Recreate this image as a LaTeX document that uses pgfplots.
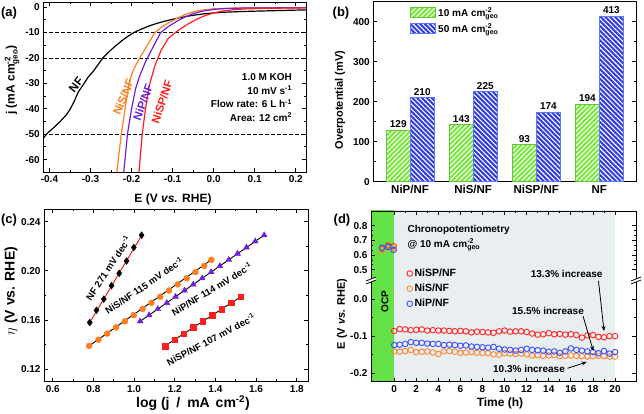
\documentclass[border=0pt]{standalone}
\usepackage{fontspec}
\setmainfont{Liberation Sans}
\usepackage{amsmath}
\usepackage{pgfplots}
\pgfplotsset{compat=1.18}
\usetikzlibrary{patterns.meta,arrows.meta}

\definecolor{cRed}{RGB}{255,30,30}
\definecolor{cOrange}{RGB}{255,125,30}
\definecolor{cPurple}{RGB}{110,30,220}
\definecolor{barGreen}{RGB}{120,232,60}
\definecolor{barBlue}{RGB}{50,60,225}
\definecolor{barBlueEdge}{RGB}{90,120,255}
\definecolor{ocpGreen}{RGB}{100,225,70}
\definecolor{bgGray}{RGB}{233,238,240}
\definecolor{dRed}{RGB}{255,40,40}
\definecolor{dOrange}{RGB}{255,135,50}
\definecolor{dBlue}{RGB}{60,80,255}

\newcommand{\geo}[1]{$^{\text{#1}}_{\text{geo}}$}
\newcommand{\fa}{\fontsize{12}{14}\selectfont\bfseries}
\newcommand{\fc}{\fontsize{14}{16}\selectfont\bfseries}
\newcommand{\fb}{\fontsize{11}{13}\selectfont\bfseries}
\newcommand{\fp}{\fontsize{13}{15}\selectfont\bfseries}
\newcommand{\fl}{\fontsize{11.5}{13}\selectfont\bfseries}
\newcommand{\fs}{\fontsize{9.5}{11}\selectfont\bfseries}
\newcommand{\fm}{\fontsize{10}{12}\selectfont\bfseries}

\pgfplotsset{
  every axis/.append style={
    scale only axis, anchor=south west,
    axis line style={-, line width=0.9pt},
    tick style={line width=0.8pt, black},
    major tick length=4pt, minor tick length=2.2pt,
    /pgf/number format/assume math mode=true,
    tick label style={font=\fontsize{10}{12}\selectfont\bfseries},
  },
}

\begin{document}
\begin{tikzpicture}

%% ---------------- (a) ----------------
\begin{axis}[at={(43.3pt,241.7pt)}, width=262.7pt, height=170.3pt,
  xmin=-0.415, xmax=0.225, ymin=-65, ymax=2,
  xtick={-0.4,-0.3,-0.2,-0.1,0,0.1,0.2}, minor x tick num=1,
  ytick={-60,-50,-40,-30,-20,-10,0}, minor y tick num=1,
  xticklabel style={/pgf/number format/.cd,fixed,fixed zerofill,precision=1}]
\addplot[black, line width=0.8pt, dash pattern=on 3.5pt off 2.5pt] coordinates {(-0.415,-10)(0.225,-10)};
\addplot[black, line width=0.8pt, dash pattern=on 3.5pt off 2.5pt] coordinates {(-0.415,-20)(0.225,-20)};
\addplot[black, line width=0.8pt, dash pattern=on 3.5pt off 2.5pt] coordinates {(-0.415,-50)(0.225,-50)};
% NF
\addplot[black, line width=1.2pt] coordinates {
(-0.415,-51.6)(-0.405,-49.6)(-0.39,-47.5)(-0.375,-45.2)(-0.36,-42.6)(-0.35,-40.3)(-0.34,-37.2)
(-0.33,-33.5)(-0.318,-30.6)(-0.305,-27.4)(-0.293,-25.2)(-0.284,-23.2)(-0.27,-20.0)(-0.255,-17.6)
(-0.24,-15.4)(-0.225,-13.4)(-0.21,-11.6)(-0.194,-10.0)(-0.178,-8.8)(-0.16,-7.6)(-0.14,-6.5)
(-0.12,-5.6)(-0.10,-4.8)(-0.08,-4.1)(-0.06,-3.5)(-0.04,-3.0)(-0.02,-2.6)(0.0,-2.3)(0.03,-2.0)
(0.06,-1.8)(0.10,-1.6)(0.15,-1.4)(0.225,-1.1)};
% NiS/NF
\addplot[cOrange, line width=1.2pt] coordinates {
(-0.236,-65)(-0.225,-50)(-0.213,-37)(-0.204,-28.5)(-0.195,-24.5)(-0.182,-20.5)(-0.165,-16.0)
(-0.143,-10.0)(-0.128,-8.0)(-0.11,-6.2)(-0.09,-4.5)(-0.07,-3.0)(-0.05,-1.9)(-0.03,-1.2)
(0.0,-0.7)(0.05,-0.4)(0.10,-0.3)(0.225,-0.2)};
% NiP/NF
\addplot[cPurple, line width=1.2pt] coordinates {
(-0.219,-65)(-0.21,-50)(-0.2,-40)(-0.19,-32)(-0.18,-27)(-0.166,-21.5)(-0.15,-16.5)
(-0.129,-10.0)(-0.11,-7.6)(-0.09,-5.6)(-0.07,-3.9)(-0.05,-2.6)(-0.03,-1.7)(0.0,-0.9)
(0.03,-0.55)(0.08,-0.35)(0.225,-0.25)};
% NiSP/NF
\addplot[cRed, line width=1.2pt] coordinates {
(-0.182,-65)(-0.174,-50)(-0.166,-40)(-0.157,-31)(-0.143,-23)(-0.128,-17)(-0.11,-12.2)
(-0.093,-10.0)(-0.08,-8.5)(-0.06,-6.4)(-0.04,-4.7)(-0.02,-3.3)(0.0,-2.3)(0.02,-1.6)
(0.05,-1.0)(0.08,-0.7)(0.12,-0.5)(0.225,-0.3)};
\end{axis}
\node[font=\fp] at (9pt,401pt) {(a)};
\node[font=\fa, rotate=90] at (12pt,334pt) {j (mA cm\geo{-2})};
\node[font=\fa] at (173pt,215pt) {E (V \textit{vs.} RHE)};
\node[font=\fl, rotate=52] at (76pt,329pt) {NF};
\node[font=\fl, rotate=68, text=cOrange] at (123.5pt,317pt) {NiS/NF};
\node[font=\fl, rotate=70, text=cPurple] at (143pt,311.5pt) {NiP/NF};
\node[font=\fl, rotate=72, text=cRed] at (162pt,312pt) {NiSP/NF};
\node[font=\fm, anchor=east] at (295.5pt,337pt) {1.0 M KOH};
\node[font=\fm, anchor=east] at (295.5pt,324pt) {10 mV s\textsuperscript{-1}};
\node[font=\fm, anchor=east] at (295.5pt,310.5pt) {Flow rate: 6 L h\textsuperscript{-1}};
\node[font=\fm, anchor=east] at (295.5pt,297pt) {Area: 12 cm\textsuperscript{2}};

%% ---------------- (b) ----------------
\begin{axis}[at={(373.3pt,232.3pt)}, width=262.7pt, height=180pt,
  xmin=-0.583, xmax=3.583, ymin=0, ymax=450,
  xtick={0,1,2,3}, xticklabels={NiP/NF,NiS/NF,NiSP/NF,NF},
  xtick style={draw=none},
  xticklabel style={font=\fontsize{11.5}{13}\selectfont\bfseries},
  ytick={0,100,200,300,400}, minor y tick num=1,
  legend style={at={(rel axis cs:0.136,0.985)}, anchor=north west, draw=none, fill=none,
     font=\fontsize{10}{12}\selectfont\bfseries, row sep=2pt, inner sep=1pt},
  legend cell align=left,
  legend image code/.code={\draw[#1] (0pt,-4.5pt) rectangle (25pt,5.5pt);},
  every node near coord/.append style={font=\fontsize{10}{12}\selectfont\bfseries, inner sep=2pt}]
\addplot[ybar, bar width=23.5pt, bar shift=-11.8pt, preaction={fill=barGreen},
  pattern={Lines[angle=45,distance=3.4pt,line width=1.1pt]}, pattern color=white,
  draw=barGreen!85!black, line width=0.6pt, nodes near coords,
  every node near coord/.append style={xshift=-11.8pt}]
  coordinates {(0,129)(1,143)(2,93)(3,194)};
\addlegendentry{10 mA cm\geo{-2}}
\addplot[ybar, bar width=24.5pt, bar shift=12.2pt, preaction={fill=barBlue},
  pattern={Lines[angle=-45,distance=3.4pt,line width=1.1pt]}, pattern color=white,
  draw=barBlueEdge, line width=1pt, nodes near coords,
  every node near coord/.append style={xshift=12.2pt}]
  coordinates {(0,210)(1,225)(2,174)(3,413)};
\addlegendentry{50 mA cm\geo{-2}}
\end{axis}
\node[font=\fp] at (341pt,401pt) {(b)};
\node[font=\fb, rotate=90] at (340pt,314pt) {Overpotential (mV)};

%% ---------------- (c) ----------------
\begin{axis}[at={(44pt,32.3pt)}, width=264.3pt, height=172.7pt,
  xmin=0.557, xmax=1.857, ymin=0.1099, ymax=0.2503,
  xtick={0.6,0.8,1.0,1.2,1.4,1.6,1.8}, minor x tick num=1,
  ytick={0.12,0.16,0.20,0.24}, minor y tick num=1,
  xticklabel style={/pgf/number format/.cd,fixed,fixed zerofill,precision=1},
  yticklabel style={/pgf/number format/.cd,fixed,fixed zerofill,precision=2}]
% NF
\addplot[only marks, mark=diamond*, mark size=3.4pt, black] coordinates {
(0.782,0.158)(0.815,0.168)(0.851,0.177)(0.889,0.188)(0.927,0.198)(0.963,0.208)(0.999,0.219)(1.037,0.229)};
\addplot[cRed, line width=1pt] coordinates {(0.78,0.1575)(1.04,0.2295)};
% NiS/NF
\addplot[only marks, mark=*, mark size=3pt, cOrange] coordinates {
(0.779,0.139)(0.825,0.144)(0.868,0.149)(0.911,0.154)(0.955,0.159)(0.998,0.164)(1.042,0.169)
(1.085,0.174)(1.129,0.179)(1.172,0.184)(1.215,0.189)(1.259,0.194)(1.302,0.199)(1.345,0.204)(1.38,0.209)};
\addplot[black, line width=0.9pt] coordinates {(0.779,0.139)(1.38,0.209)};
% NiP/NF
\addplot[only marks, mark=triangle*, mark size=3.4pt, cPurple] coordinates {
(1.03,0.159)(1.074,0.164)(1.117,0.169)(1.161,0.174)(1.204,0.179)(1.248,0.184)(1.291,0.189)
(1.335,0.194)(1.379,0.199)(1.422,0.204)(1.466,0.209)(1.509,0.214)(1.553,0.219)(1.596,0.224)(1.64,0.229)};
\addplot[black, line width=0.9pt] coordinates {(1.03,0.159)(1.64,0.229)};
% NiSP/NF
\addplot[only marks, mark=square*, mark size=2.8pt, cRed] coordinates {
(1.152,0.139)(1.199,0.144)(1.245,0.149)(1.292,0.154)(1.338,0.159)(1.385,0.164)(1.432,0.169)(1.478,0.174)(1.525,0.179)};
\addplot[black, line width=0.9pt] coordinates {(1.152,0.139)(1.525,0.179)};
\end{axis}
\node[font=\fp] at (9pt,194pt) {(c)};
\node[font=\fc, rotate=90] at (11pt,123pt) {$\eta$ (V vs. RHE)};
\node[font=\fc] at (193pt,11pt) {log (j\hspace{3pt} /\hspace{3pt} mA\hspace{2pt} cm\textsuperscript{-2})};
\node[font=\fs, rotate=56.5] at (108pt,146pt) {NF 271 mV dec\textsuperscript{-1}};
\node[font=\fs, rotate=34] at (144pt,128.5pt) {NiS/NF 115 mV dec\textsuperscript{-1}};
\node[font=\fs, rotate=31] at (211.7pt,125pt) {NiP/NF 114 mV dec\textsuperscript{-1}};
\node[font=\fs, rotate=28] at (210.8pt,74.8pt) {NiSP/NF 107 mV dec\textsuperscript{-1}};

%% ---------------- (d) upper ----------------
\begin{axis}[at={(371pt,134pt)}, width=265pt, height=69pt,
  xmin=-2.1, xmax=21.9, ymin=0.43, ymax=0.9,
  axis x line*=top, axis y line*=box, axis on top,
  xtick={0,2,4,6,8,10,12,14,16,18,20}, minor x tick num=1, xticklabels={},
  ytick={0.5,0.6,0.7,0.8}, minor y tick num=2,
  yticklabel style={/pgf/number format/.cd,fixed,fixed zerofill,precision=1}]
\fill[ocpGreen] (axis cs:-3,0) rectangle (axis cs:0,1);
\fill[bgGray] (axis cs:0,0) rectangle (axis cs:20,1);
\addplot[only marks, mark=o, mark size=2.8pt, line width=0.9pt, dRed] coordinates {(-1.1,0.64)(-0.55,0.665)(-0.05,0.66)};
\addplot[only marks, mark=o, mark size=2.8pt, line width=0.9pt, dOrange] coordinates {(-1.1,0.635)(-0.55,0.655)(-0.05,0.645)};
\addplot[only marks, mark=o, mark size=2.8pt, line width=0.9pt, dBlue] coordinates {(-1.1,0.65)(-0.55,0.655)(-0.05,0.635)};
\end{axis}

%% ---------------- (d) lower ----------------
\begin{axis}[at={(371pt,32.3pt)}, width=265pt, height=101.7pt,
  xmin=-2.1, xmax=21.9, ymin=-0.2226, ymax=0.051,
  axis x line*=bottom, axis y line*=box, axis on top,
  xtick={0,2,4,6,8,10,12,14,16,18,20}, minor x tick num=1,
  ytick={-0.2,-0.1,0}, minor y tick num=1,
  yticklabel style={/pgf/number format/.cd,fixed,fixed zerofill,precision=1},
  legend style={at={(rel axis cs:0.135,1.13)}, anchor=north west, draw=none, fill=none,
     font=\fontsize{10.5}{12}\selectfont\bfseries, row sep=2pt, inner sep=0pt},
  legend cell align=left,
  legend image code/.code={\draw[#1] plot coordinates {(0.17cm,0cm)};}]
\fill[ocpGreen] (axis cs:-3,-1) rectangle (axis cs:0,1);
\fill[bgGray] (axis cs:0,-1) rectangle (axis cs:20,1);
\addplot[only marks, mark=o, mark size=2.8pt, line width=0.9pt, dRed] coordinates {
(0,-0.086)(0.5,-0.081)(1,-0.082)(1.5,-0.084)(2,-0.083)(2.5,-0.082)(3,-0.085)(3.5,-0.084)
(4,-0.085)(4.5,-0.085)(5,-0.086)(5.5,-0.087)(6,-0.086)(6.5,-0.087)(7,-0.090)(7.5,-0.088)
(8,-0.089)(8.5,-0.090)(9,-0.091)(9.5,-0.087)(10,-0.085)(10.5,-0.088)(11,-0.087)(11.5,-0.087)
(12,-0.089)(12.5,-0.093)(13,-0.096)(13.5,-0.095)(14,-0.092)(14.5,-0.095)(15,-0.094)(15.5,-0.096)
(16,-0.095)(16.5,-0.097)(17,-0.104)(17.5,-0.098)(18,-0.097)(18.5,-0.102)(19,-0.103)(19.5,-0.100)(20,-0.100)};
\addlegendentry{NiSP/NF}
\addplot[only marks, mark=o, mark size=2.8pt, line width=0.9pt, dOrange] coordinates {
(0,-0.141)(0.5,-0.142)(1,-0.140)(1.5,-0.137)(2,-0.143)(2.5,-0.142)(3,-0.141)(3.5,-0.144)
(4,-0.148)(4.5,-0.141)(5,-0.140)(5.5,-0.142)(6,-0.145)(6.5,-0.144)(7,-0.143)(7.5,-0.145)
(8,-0.145)(8.5,-0.146)(9,-0.149)(9.5,-0.150)(10,-0.146)(10.5,-0.147)(11,-0.148)(11.5,-0.147)
(12,-0.149)(12.5,-0.152)(13,-0.151)(13.5,-0.153)(14,-0.152)(14.5,-0.151)(15,-0.154)(15.5,-0.153)
(16,-0.152)(16.5,-0.153)(17,-0.154)(17.5,-0.155)(18,-0.154)(18.5,-0.153)(19,-0.154)(19.5,-0.155)(20,-0.155)};
\addlegendentry{NiS/NF}
\addplot[only marks, mark=o, mark size=2.8pt, line width=0.9pt, dBlue] coordinates {
(0,-0.124)(0.5,-0.123)(1,-0.121)(1.5,-0.116)(2,-0.118)(2.5,-0.118)(3,-0.120)(3.5,-0.121)
(4,-0.121)(4.5,-0.124)(5,-0.123)(5.5,-0.124)(6,-0.126)(6.5,-0.125)(7,-0.128)(7.5,-0.129)
(8,-0.130)(8.5,-0.131)(9,-0.129)(9.5,-0.134)(10,-0.136)(10.5,-0.137)(11,-0.139)(11.5,-0.137)
(12,-0.134)(12.5,-0.137)(13,-0.138)(13.5,-0.139)(14,-0.142)(14.5,-0.141)(15,-0.145)(15.5,-0.141)
(16,-0.133)(16.5,-0.137)(17,-0.139)(17.5,-0.141)(18,-0.143)(18.5,-0.146)(19,-0.140)(19.5,-0.147)(20,-0.143)};
\addlegendentry{NiP/NF}
\end{axis}
% axis breaks
\foreach \bx in {371,636}{
  \fill[white] (\bx pt-5pt,130pt) -- (\bx pt+5pt,134pt) -- (\bx pt+5pt,137pt) -- (\bx pt-5pt,133pt) -- cycle;
  \draw[line width=0.8pt] (\bx pt-5pt,130pt) -- (\bx pt+5pt,134pt);
  \draw[line width=0.8pt] (\bx pt-5pt,133pt) -- (\bx pt+5pt,137pt);
}
\node[font=\fp] at (342pt,194pt) {(d)};
\node[font=\fb, rotate=90] at (342pt,100pt) {E (V \textit{vs.} RHE)};
\node[font=\fa] at (500pt,10.7pt) {Time (h)};
\node[font=\fm, rotate=90] at (385pt,112.3pt) {OCP};
\node[font=\fm, anchor=west] at (404pt,184pt) {Chronopotentiometry};
\node[font=\fm, anchor=west] at (404pt,169pt) {@ 10 mA cm\geo{-2}};
\node[font=\fm] at (566.7pt,139.7pt) {13.3\% increase};
\node[font=\fm] at (548pt,103pt) {15.5\% increase};
\node[font=\fm] at (529pt,45pt) {10.3\% increase};
\draw[-{Stealth[length=5pt,width=4pt]}, line width=0.8pt] (598.5pt,133pt) -- (604pt,83pt);
\draw[-{Stealth[length=5pt,width=4pt]}, line width=0.8pt] (583pt,98pt) -- (593.3pt,63pt);
\draw[-{Stealth[length=5pt,width=4pt]}, line width=0.8pt] (567.5pt,45.7pt) -- (586.7pt,52pt);

\pgfresetboundingbox
\useasboundingbox (0,0) rectangle (644pt,414pt);
\end{tikzpicture}
\end{document}
